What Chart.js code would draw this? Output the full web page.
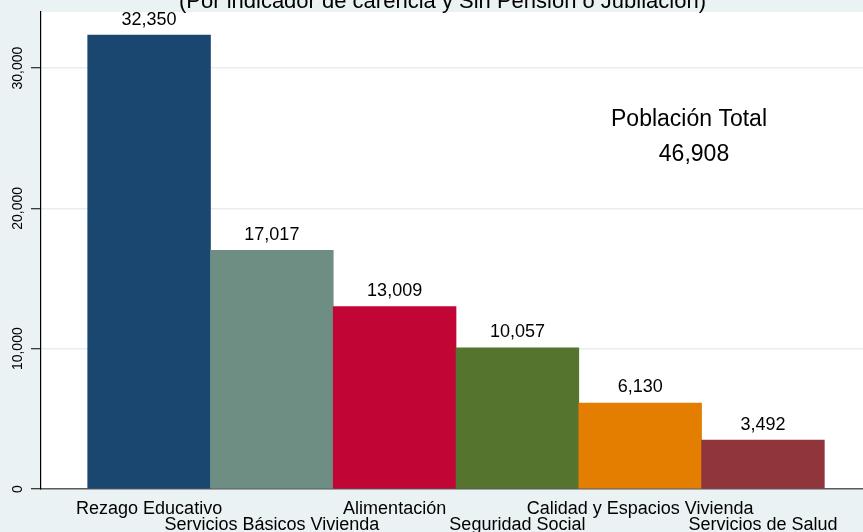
<!DOCTYPE html>
<html>
<head>
<meta charset="utf-8">
<script src="https://cdn.jsdelivr.net/npm/chart.js@4.4.1/dist/chart.umd.min.js"></script>
<style>
  html, body { margin: 0; padding: 0; background: rgb(234,242,243); }
  #wrap { width: 863px; height: 532px; position: relative; }
  canvas { display: block; }
</style>
</head>
<body>
<div id="wrap"><canvas id="c" width="863" height="532"></canvas></div>
<script>
const categories = [
  "Rezago Educativo",
  "Servicios Básicos Vivienda",
  "Alimentación",
  "Seguridad Social",
  "Calidad y Espacios Vivienda",
  "Servicios de Salud"
];
const values = [32350, 17017, 13009, 10057, 6130, 3492];
const barColors = ["#1A476F", "#6E8E84", "#C10534", "#55752F", "#E37E00", "#90353B"];
const yTickValues = [0, 10000, 20000, 30000];
const titleText = "(Por indicador de carencia y Sin Pensión o Jubilación)";
const totalLabel = "Población Total";
const totalValue = 46908;

const BG = "rgb(234,242,243)";
const FONT = "'Liberation Sans', Arial, Helvetica, sans-serif";
const fmt = v => Number(v).toLocaleString("en-US");

const bgPlugin = {
  id: "bg",
  beforeDraw(chart) {
    const { ctx, chartArea: a } = chart;
    ctx.save();
    ctx.fillStyle = BG;
    ctx.fillRect(0, 0, chart.width, chart.height);
    ctx.fillStyle = "#ffffff";
    ctx.fillRect(a.left, a.top, a.right - a.left, a.bottom - a.top);
    ctx.restore();
  }
};

const textPlugin = {
  id: "texts",
  afterDatasetsDraw(chart) {
    const { ctx } = chart;
    ctx.save();
    ctx.fillStyle = "#000";
    ctx.font = "18px " + FONT;
    ctx.textAlign = "center";
    ctx.textBaseline = "alphabetic";
    const meta = chart.getDatasetMeta(0);
    meta.data.forEach((bar, i) => {
      ctx.fillText(fmt(values[i]), bar.x, bar.y - 10.5);
    });
    ctx.font = "22px " + FONT;
    ctx.fillText(titleText, 442.5, 8);
    ctx.font = "23px " + FONT;
    ctx.fillText(totalLabel, 689, 126);
    ctx.fillText(fmt(totalValue), 694, 161);
    ctx.restore();
  }
};

new Chart(document.getElementById("c"), {
  type: "bar",
  data: {
    datasets: [{
      data: values.map((v, i) => ({ x: i, y: v })),
      backgroundColor: barColors,
      borderWidth: 0,
      barPercentage: 1,
      categoryPercentage: 1
    }]
  },
  options: {
    responsive: false,
    animation: false,
    devicePixelRatio: 1,
    layout: { padding: { top: 12, right: 0, left: 0, bottom: 0 } },
    plugins: { legend: { display: false }, tooltip: { enabled: false }, title: { display: false } },
    scales: {
      x: {
        type: "linear",
        min: -0.8805,
        max: 5.815,
        offset: false,
        grid: { display: false, offset: false },
        border: { display: true, color: "#5a5a5a", width: 1.5 },
        afterBuildTicks(scale) { scale.ticks = categories.map((_, i) => ({ value: i })); },
        afterFit(scale) { scale.height = 43; scale.paddingLeft = 0; scale.paddingRight = 0; },
        ticks: {
          autoSkip: false,
          maxRotation: 0,
          minRotation: 0,
          padding: 4,
          color: "#000",
          font: { family: FONT, size: 18, lineHeight: 0.9 },
          callback: (v) => {
            const i = Math.round(v);
            return i % 2 === 1 ? ["", categories[i]] : [categories[i]];
          }
        }
      },
      y: {
        type: "linear",
        min: 0,
        max: 34000,
        afterBuildTicks(scale) { scale.ticks = yTickValues.map(v => ({ value: v })); },
        afterFit(scale) { scale.width = 41; scale.paddingTop = 0; scale.paddingBottom = 0; },
        grid: { color: "rgb(230,238,240)", lineWidth: 1.5, tickColor: "#000", tickWidth: 1, tickLength: 10, drawTicks: true },
        border: { display: true, color: "#000", width: 1.2 },
        ticks: {
          minRotation: 90,
          maxRotation: 90,
          crossAlign: "center",
          padding: -9,
          color: "#000",
          font: { family: FONT, size: 14 },
          callback: v => fmt(v)
        }
      }
    }
  },
  plugins: [bgPlugin, textPlugin]
});
</script>
</body>
</html>
